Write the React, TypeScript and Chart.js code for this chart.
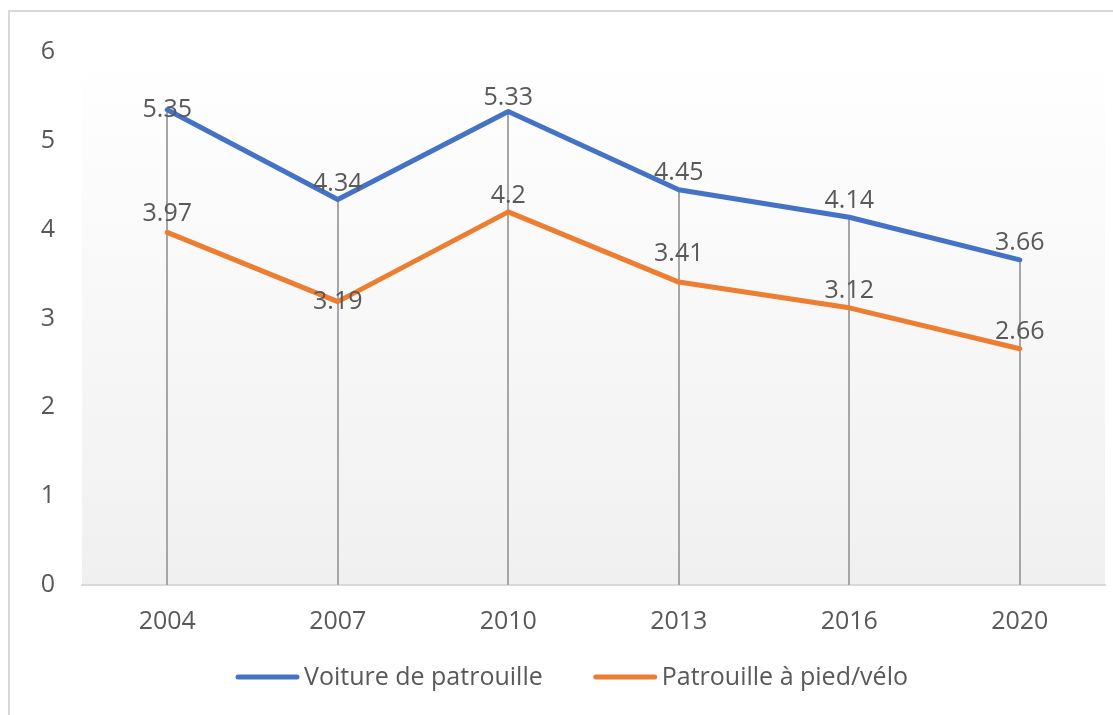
import { useEffect, useRef } from "react";
import { Chart, registerables } from "chart.js";

Chart.register(...registerables);

const years = ["2004", "2007", "2010", "2013", "2016", "2020"];
const voiture = [5.35, 4.34, 5.33, 4.45, 4.14, 3.66];
const pied = [3.97, 3.19, 4.2, 3.41, 3.12, 2.66];
const seriesNames = ["Voiture de patrouille", "Patrouille à pied/vélo"];
const yMin = 0;
const yMax = 6;
const yStep = 1;

const FONT = "'Open Sans', 'Noto Sans', sans-serif";
const FS = 25;
const TEXT = "#595959";
const BLUE = "#4472C4";
const ORANGE = "#ED7D31";

// vertical lift (px) of each data label above its point, per series
const labelLift = [
  [0, 16, 14, 17, 16, 17],
  [18, 0, 16, 28, 17, 17],
];

const bgPlugin = {
  id: "bgGradient",
  beforeDraw(chart: any) {
    const { ctx, chartArea: a } = chart;
    const g = ctx.createLinearGradient(0, a.top, 0, a.bottom);
    g.addColorStop(0, "#ffffff");
    g.addColorStop(1, "#f0f0f0");
    ctx.save();
    ctx.fillStyle = g;
    ctx.fillRect(a.left, a.top, a.right - a.left, a.bottom - a.top);
    ctx.restore();
  },
};

const dropLinePlugin = {
  id: "dropLines",
  beforeDatasetsDraw(chart: any) {
    const { ctx, chartArea: a } = chart;
    const metas = chart.data.datasets.map((_: any, i: number) => chart.getDatasetMeta(i));
    const n = chart.data.labels.length;
    ctx.save();
    ctx.strokeStyle = "#a6a6a6";
    ctx.lineWidth = 2;
    for (let i = 0; i < n; i++) {
      let top = Infinity;
      let x = 0;
      metas.forEach((m: any) => {
        const p = m.data[i];
        if (p.y < top) top = p.y;
        x = p.x;
      });
      ctx.beginPath();
      ctx.moveTo(Math.round(x), top);
      ctx.lineTo(Math.round(x), a.bottom);
      ctx.stroke();
    }
    ctx.restore();
  },
};

const labelPlugin = {
  id: "dataLabels",
  afterDatasetsDraw(chart: any) {
    const { ctx } = chart;
    ctx.save();
    ctx.font = `${FS}px ${FONT}`;
    ctx.fillStyle = TEXT;
    ctx.textAlign = "center";
    ctx.textBaseline = "middle";
    chart.data.datasets.forEach((ds: any, di: number) => {
      const m = chart.getDatasetMeta(di);
      m.data.forEach((p: any, i: number) => {
        const lift = (labelLift[di] && labelLift[di][i]) ?? 16;
        ctx.fillText(String(ds.data[i]), p.x, p.y - lift);
      });
    });
    ctx.restore();
  },
};

const legendPlugin = {
  id: "customLegend",
  afterDraw(chart: any) {
    const { ctx } = chart;
    const boxW = 63;
    const gapText = 5;
    const gapItem = 51;
    const cy = 677;
    const cx = 572;
    ctx.save();
    ctx.font = `${FS}px ${FONT}`;
    const items = chart.data.datasets.map((ds: any) => ({
      label: ds.label,
      color: ds.borderColor,
      w: ctx.measureText(ds.label).width,
    }));
    let total = 0;
    items.forEach((it: any, i: number) => {
      total += boxW + gapText + it.w + (i < items.length - 1 ? gapItem : 0);
    });
    let x = cx - total / 2;
    items.forEach((it: any) => {
      ctx.strokeStyle = it.color;
      ctx.lineWidth = 5;
      ctx.lineCap = "round";
      ctx.beginPath();
      ctx.moveTo(x + 2, cy);
      ctx.lineTo(x + boxW - 2, cy);
      ctx.stroke();
      ctx.fillStyle = TEXT;
      ctx.textAlign = "left";
      ctx.textBaseline = "middle";
      ctx.fillText(it.label, x + boxW + gapText, cy + 1);
      x += boxW + gapText + it.w + gapItem;
    });
    ctx.restore();
  },
};

export default function App() {
  const ref = useRef<HTMLCanvasElement | null>(null);

  useEffect(() => {
    if (!ref.current) return;
    const chart = new Chart(ref.current, {
      type: "line",
      data: {
        labels: years,
        datasets: [
          {
            label: seriesNames[0],
            data: voiture,
            borderColor: BLUE,
            backgroundColor: BLUE,
            borderWidth: 5,
            pointRadius: 0,
            tension: 0,
            borderCapStyle: "round",
            borderJoinStyle: "round",
          },
          {
            label: seriesNames[1],
            data: pied,
            borderColor: ORANGE,
            backgroundColor: ORANGE,
            borderWidth: 5,
            pointRadius: 0,
            tension: 0,
            borderCapStyle: "round",
            borderJoinStyle: "round",
          },
        ],
      },
      options: {
        responsive: false,
        animation: false,
        devicePixelRatio: 1,
        layout: { padding: { top: 52, right: 8, left: 0, bottom: 0 } },
        plugins: {
          legend: { display: false },
          tooltip: { enabled: false },
          title: { display: false },
        },
        scales: {
          x: {
            offset: true,
            grid: { display: false, drawTicks: false },
            border: { display: true, color: "#d9d9d9", width: 2 },
            ticks: {
              color: TEXT,
              font: { family: FONT, size: FS },
              padding: 22,
              maxRotation: 0,
            },
            afterFit(scale: any) {
              scale.height = 130;
            },
          },
          y: {
            min: yMin,
            max: yMax,
            grid: { display: false, drawTicks: false },
            border: { display: false },
            ticks: {
              stepSize: yStep,
              color: TEXT,
              font: { family: FONT, size: FS },
              padding: 27,
            },
            afterFit(scale: any) {
              scale.width = 82;
            },
          },
        },
      },
      plugins: [bgPlugin, dropLinePlugin, labelPlugin, legendPlugin],
    } as any);
    return () => chart.destroy();
  }, []);

  return (
    <div
      style={{
        position: "fixed",
        left: 0,
        top: 0,
        width: 1113,
        height: 715,
        overflow: "hidden",
        background: "#ffffff",
      }}
    >
      <div
        style={{
          position: "absolute",
          left: 8,
          top: 10,
          width: 1300,
          height: 900,
          borderTop: "2px solid #d9d9d9",
          borderLeft: "2px solid #d9d9d9",
        }}
      />
      <canvas
        ref={ref}
        width={1113}
        height={715}
        style={{ position: "absolute", left: 0, top: 0, width: 1113, height: 715 }}
      />
    </div>
  );
}
